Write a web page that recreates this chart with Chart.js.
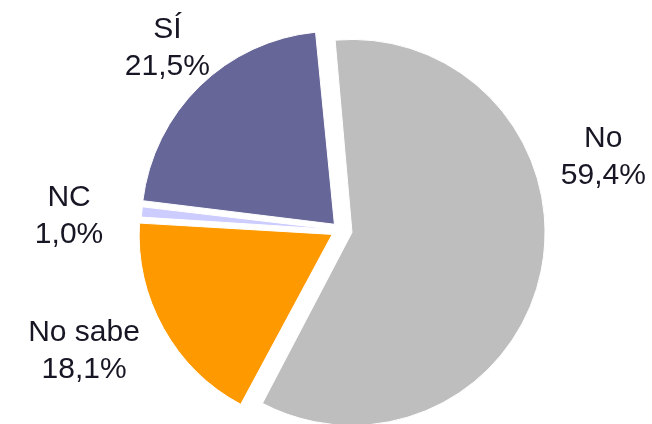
<!DOCTYPE html>
<html>
<head>
<meta charset="utf-8">
<script src="https://cdn.jsdelivr.net/npm/chart.js@4/dist/chart.umd.min.js"></script>
<style>
  html, body { margin: 0; padding: 0; background: #ffffff; }
  #wrap { width: 652px; height: 424px; position: relative; }
</style>
</head>
<body>
<div id="wrap"><canvas id="c" width="652" height="424"></canvas></div>
<script>
// ---- data ----
const categories = ["No", "No sabe", "NC", "SÍ"];
const values = [59.4, 18.1, 1.0, 21.5];
const valueLabels = ["59,4%", "18,1%", "1,0%", "21,5%"];
const colors = ["#bebebe", "#ff9900", "#ccccff", "#666699"];
const explode = [49, 36, 24, 32];

// label anchors, polar relative to pie centre: angle (deg, clockwise from top), extra distance beyond radius
const labelPolar = [[76.3, 78], [243.1, 94], [271.1, 78], [315.2, 52]];

const R = 193;

// keep exploded slices at the common radius (Chart.js enlarges offset arcs)
const keepRadius = {
  id: 'keepRadius',
  beforeDatasetDraw(chart, args) {
    const meta = chart.getDatasetMeta(args.index);
    meta.data.forEach(el => {
      const o = (el.options.offset || 0) / 4;
      const circ = el.endAngle - el.startAngle;
      const fix = 1 - Math.sin(Math.min(Math.PI, circ));
      el._origR = el.outerRadius;
      el.outerRadius = el.outerRadius - o * fix;
    });
  },
  afterDatasetDraw(chart, args) {
    const meta = chart.getDatasetMeta(args.index);
    meta.data.forEach(el => { el.outerRadius = el._origR; });
  }
};

const outsideLabels = {
  id: 'outsideLabels',
  afterDatasetsDraw(chart) {
    const meta = chart.getDatasetMeta(0);
    const ctx = chart.ctx;
    ctx.save();
    ctx.font = '30px "Liberation Sans", Arial, sans-serif';
    ctx.fillStyle = '#161624';
    ctx.textAlign = 'center';
    ctx.textBaseline = 'alphabetic';
    meta.data.forEach((el, i) => {
      const [deg, extra] = labelPolar[i];
      const a = deg * Math.PI / 180;
      const d = R + extra;
      const x = el.x + Math.sin(a) * d;
      const y = el.y - Math.cos(a) * d;
      ctx.fillText(categories[i], x, y - 18.5);
      ctx.fillText(valueLabels[i], x, y + 18.5);
    });
    ctx.restore();
  }
};

new Chart(document.getElementById('c'), {
  type: 'pie',
  data: {
    labels: categories,
    datasets: [{
      data: values,
      backgroundColor: colors,
      borderColor: '#ffffff',
      borderWidth: 1,
      offset: explode
    }]
  },
  options: {
    responsive: false,
    animation: false,
    rotation: -5.6,
    radius: R,
    layout: { padding: { left: 28, right: 0, top: 36, bottom: 0 } },
    plugins: {
      legend: { display: false },
      tooltip: { enabled: false },
      title: { display: false }
    }
  },
  plugins: [keepRadius, outsideLabels]
});
</script>
</body>
</html>
